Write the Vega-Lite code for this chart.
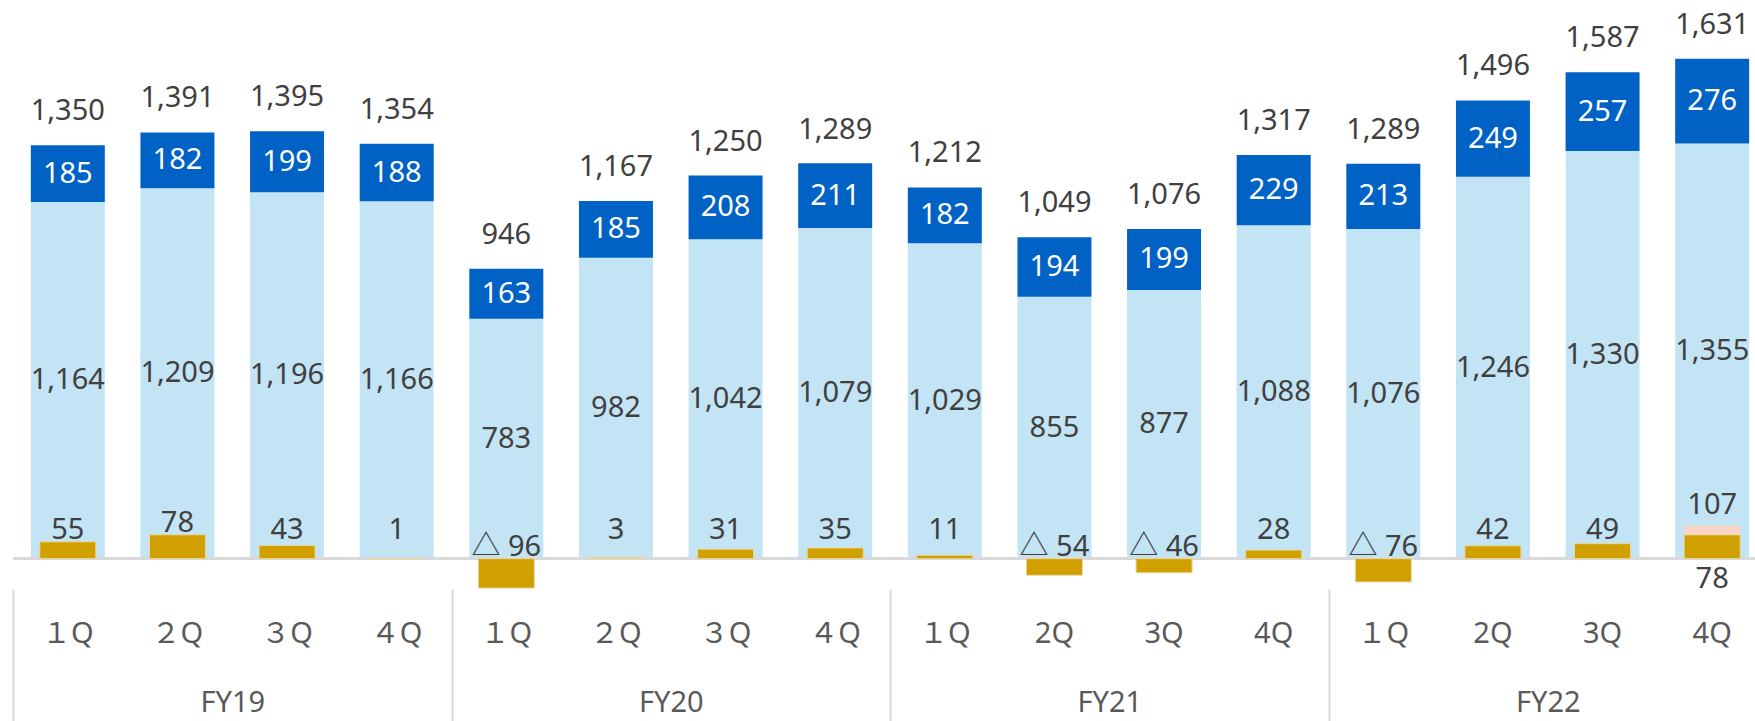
{
  "$schema": "https://vega.github.io/schema/vega-lite/v6.json",
  "width": 1742,
  "height": 589,
  "autosize": {"type": "none"},
  "padding": {"left": 13, "top": 0, "right": 0, "bottom": 132},
  "background": "#ffffff",
  "config": {
    "view": {"stroke": null},
    "text": {"font": "Noto Sans, Noto Sans CJK JP", "fontSize": 29, "color": "#404040"}
  },
  "data": {
    "values": [
      {"key": "FY19-1|１Q", "fy": "FY19", "base": 1164, "upper": 185, "total": 1350, "gold": 55},
      {"key": "FY19-2|２Q", "fy": "FY19", "base": 1209, "upper": 182, "total": 1391, "gold": 78},
      {"key": "FY19-3|３Q", "fy": "FY19", "base": 1196, "upper": 199, "total": 1395, "gold": 43},
      {"key": "FY19-4|４Q", "fy": "FY19", "base": 1166, "upper": 188, "total": 1354, "gold": 1},
      {"key": "FY20-1|１Q", "fy": "FY20", "base": 783, "upper": 163, "total": 946, "gold": -96},
      {"key": "FY20-2|２Q", "fy": "FY20", "base": 982, "upper": 185, "total": 1167, "gold": 3},
      {"key": "FY20-3|３Q", "fy": "FY20", "base": 1042, "upper": 208, "total": 1250, "gold": 31},
      {"key": "FY20-4|４Q", "fy": "FY20", "base": 1079, "upper": 211, "total": 1289, "gold": 35},
      {"key": "FY21-1|１Q", "fy": "FY21", "base": 1029, "upper": 182, "total": 1212, "gold": 11},
      {"key": "FY21-2|2Q", "fy": "FY21", "base": 855, "upper": 194, "total": 1049, "gold": -54},
      {"key": "FY21-3|3Q", "fy": "FY21", "base": 877, "upper": 199, "total": 1076, "gold": -46},
      {"key": "FY21-4|4Q", "fy": "FY21", "base": 1088, "upper": 229, "total": 1317, "gold": 28},
      {"key": "FY22-1|１Q", "fy": "FY22", "base": 1076, "upper": 213, "total": 1289, "gold": -76},
      {"key": "FY22-2|2Q", "fy": "FY22", "base": 1246, "upper": 249, "total": 1496, "gold": 42},
      {"key": "FY22-3|3Q", "fy": "FY22", "base": 1330, "upper": 257, "total": 1587, "gold": 49},
      {"key": "FY22-4|4Q", "fy": "FY22", "base": 1355, "upper": 276, "total": 1631, "gold": 78, "goldAdj": 107}
    ]
  },
  "layer": [
    {
      "encoding": {
        "x": {
          "field": "key", "type": "nominal", "sort": "ascending",
          "scale": {"range": [0, 1754], "paddingInner": 0.325, "paddingOuter": 0.1625},
          "axis": {
            "orient": "bottom", "title": null, "domain": false, "ticks": false, "tickSize": 0,
            "labelPadding": 53, "labelBaseline": "alphabetic", "labelAngle": 0,
            "labelFont": "Noto Sans, Noto Sans CJK JP", "labelFontSize": 29, "labelColor": "#595959",
            "labelOverlap": false,
            "labelExpr": "split(datum.value, '|')[1]"
          }
        }
      },
      "layer": [
        {
          "transform": [{"fold": ["base", "upper"], "as": ["seg", "v"]}],
          "mark": {"type": "bar"},
          "encoding": {
            "y": {"field": "v", "type": "quantitative", "stack": "zero", "scale": {"domain": [-99, 1823], "nice": false, "zero": false}, "axis": null},
            "color": {"field": "seg", "type": "nominal", "scale": {"domain": ["base", "upper"], "range": ["#C3E4F5", "#0062C4"]}, "legend": null},
            "order": {"field": "seg", "type": "ordinal"}
          }
        },
        {
          "transform": [{"fold": ["base", "upper"], "as": ["seg", "v"]}],
          "mark": {"type": "text", "baseline": "middle", "align": "center"},
          "encoding": {
            "y": {"field": "v", "type": "quantitative", "stack": "zero", "bandPosition": 0.5, "scale": {"domain": [-99, 1823], "nice": false, "zero": false}, "axis": null},
            "text": {"field": "v", "type": "quantitative", "format": ","},
            "fill": {"field": "seg", "type": "nominal", "scale": {"domain": ["base", "upper"], "range": ["#404040", "#FFFFFF"]}, "legend": null},
            "order": {"field": "seg", "type": "ordinal"}
          }
        },
        {
          "mark": {"type": "text", "baseline": "alphabetic", "align": "center", "dy": -25},
          "encoding": {
            "y": {"field": "total", "type": "quantitative", "scale": {"domain": [-99, 1823], "nice": false, "zero": false}, "axis": null},
            "text": {"field": "total", "type": "quantitative", "format": ","}
          }
        }
      ]
    },
    {
      "mark": {"type": "rule", "color": "#D9D9D9", "strokeWidth": 2.5},
      "encoding": {"y": {"datum": 0, "type": "quantitative", "scale": {"domain": [-99, 1823], "nice": false, "zero": false}, "axis": null}}
    },
    {
      "encoding": {
        "x": {
          "field": "key", "type": "nominal", "sort": "ascending",
          "scale": {"range": [0, 1754], "paddingInner": 0.325, "paddingOuter": 0.1625},
          "axis": null
        }
      },
      "layer": [
        {
          "mark": {"type": "bar", "width": {"band": 0.757}, "color": "#CFA000", "stroke": "#E9D7A0", "strokeWidth": 1},
          "encoding": {
            "y": {"field": "gold", "type": "quantitative", "scale": {"domain": [-99, 1823], "nice": false, "zero": false}, "axis": null}
          }
        },
        {
          "transform": [{"filter": "isValid(datum.goldAdj)"}],
          "mark": {"type": "bar", "width": {"band": 0.757}, "color": "#F8D5C4"},
          "encoding": {
            "y": {"field": "gold", "type": "quantitative", "scale": {"domain": [-99, 1823], "nice": false, "zero": false}, "axis": null},
            "y2": {"field": "goldAdj"}
          }
        },
        {
          "transform": [
            {"filter": "!isValid(datum.goldAdj)"},
            {"calculate": "datum.gold < 0 ? '△ ' + abs(datum.gold) : '' + datum.gold", "as": "lbl"},
            {"calculate": "datum.gold < 0 ? 0 : max(datum.gold, 55)", "as": "ly"}
          ],
          "mark": {"type": "text", "baseline": "alphabetic", "align": "center", "dy": -3},
          "encoding": {
            "y": {"field": "ly", "type": "quantitative", "scale": {"domain": [-99, 1823], "nice": false, "zero": false}, "axis": null},
            "text": {"field": "lbl", "type": "nominal"}
          }
        },
        {
          "transform": [{"filter": "isValid(datum.goldAdj)"}],
          "mark": {"type": "text", "baseline": "alphabetic", "align": "center", "dy": -12},
          "encoding": {
            "y": {"field": "goldAdj", "type": "quantitative", "scale": {"domain": [-99, 1823], "nice": false, "zero": false}, "axis": null},
            "text": {"field": "goldAdj", "type": "quantitative"}
          }
        },
        {
          "transform": [{"filter": "isValid(datum.goldAdj)"}],
          "mark": {"type": "text", "baseline": "alphabetic", "align": "center", "dy": 29},
          "encoding": {
            "y": {"datum": 0, "type": "quantitative", "scale": {"domain": [-99, 1823], "nice": false, "zero": false}, "axis": null},
            "text": {"field": "gold", "type": "quantitative"}
          }
        }
      ]
    },
    {
      "mark": {"type": "text", "text": ""},
      "encoding": {
        "x": {
          "field": "fy", "type": "nominal", "sort": "ascending",
          "scale": {"range": [0, 1754], "paddingInner": 0, "paddingOuter": 0},
          "axis": {
            "orient": "bottom", "title": null, "domain": false, "ticks": true, "tickBand": "extent",
            "tickSize": 132, "tickColor": "#D9D9D9", "tickWidth": 2,
            "labelPadding": -10, "labelBaseline": "alphabetic", "labelAngle": 0,
            "labelFont": "Noto Sans, Noto Sans CJK JP", "labelFontSize": 29, "labelColor": "#595959"
          }
        }
      }
    }
  ],
  "resolve": {"scale": {"x": "independent"}, "axis": {"x": "independent"}}
}
